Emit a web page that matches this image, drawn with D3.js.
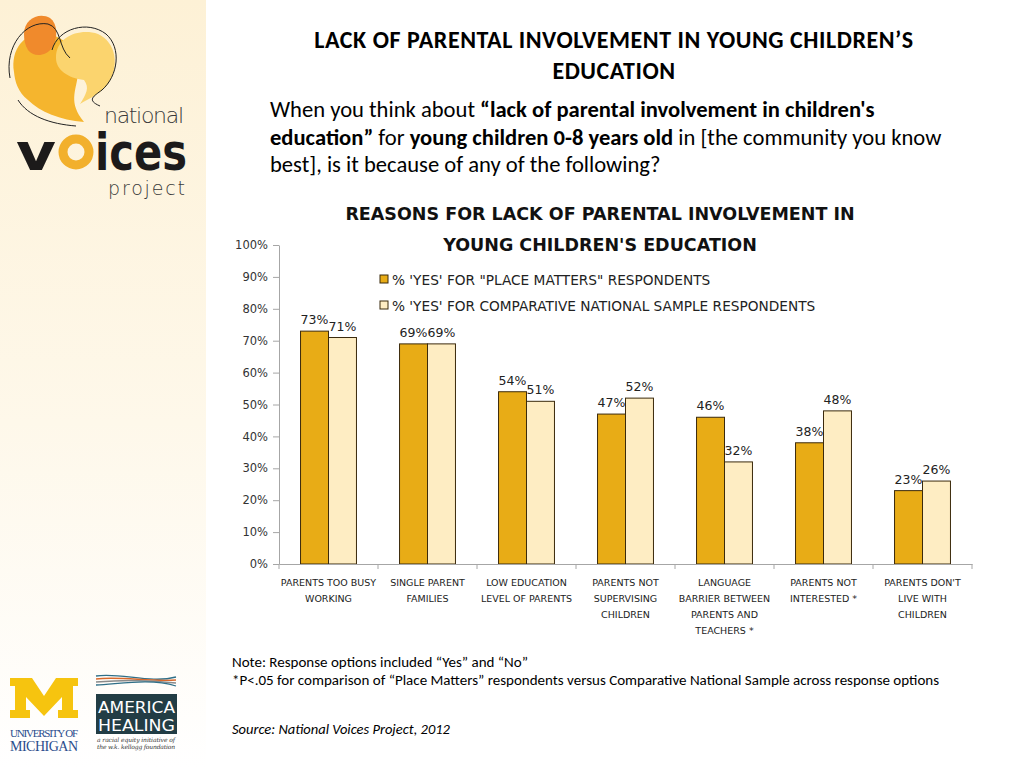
<!DOCTYPE html>
<html>
<head>
<meta charset="utf-8">
<script src="https://cdn.jsdelivr.net/npm/d3@7"></script>
<style>
  body { margin: 0; background: #fff; }
  svg { display: block; }
  .axis path, .axis line { stroke: #a6a6a6; }
  .axis text { font-family: "DejaVu Sans", sans-serif; font-size: 11.5px; fill: #333; }
</style>
</head>
<body>
<script>
(function(){

    //chart data
    var categories = [
        ["PARENTS TOO BUSY", "WORKING"],
        ["SINGLE PARENT", "FAMILIES"],
        ["LOW EDUCATION", "LEVEL OF PARENTS"],
        ["PARENTS NOT", "SUPERVISING", "CHILDREN"],
        ["LANGUAGE", "BARRIER BETWEEN", "PARENTS AND", "TEACHERS *"],
        ["PARENTS NOT", "INTERESTED *"],
        ["PARENTS DON'T", "LIVE WITH", "CHILDREN"]
    ];
    var seriesNames = ["% 'YES'  FOR \"PLACE MATTERS\" RESPONDENTS",
                       "% 'YES' FOR COMPARATIVE NATIONAL SAMPLE RESPONDENTS"];
    var placeMatters = [73, 69, 54, 47, 46, 38, 23];
    var nationalSample = [71, 69, 51, 52, 32, 48, 26];
    var yTicks = [0, 10, 20, 30, 40, 50, 60, 70, 80, 90, 100];
    var colors = ["#E8AC16", "#FEEDC3"];

    var width = 1024, height = 768;
    var calibri = "Carlito, Lato, 'Open Sans', sans-serif";
    var gothic = "'DejaVu Sans', sans-serif";

    var svg = d3.select("body").append("svg")
        .attr("width", width)
        .attr("height", height);

    //left side panel
    var defs = svg.append("defs");
    var grad = defs.append("linearGradient")
        .attr("id", "panel")
        .attr("x1", 0).attr("y1", 0).attr("x2", 0).attr("y2", 1);
    grad.append("stop").attr("offset", "0%").attr("stop-color", "#FDF1D6");
    grad.append("stop").attr("offset", "55%").attr("stop-color", "#FEF8EA");
    grad.append("stop").attr("offset", "100%").attr("stop-color", "#FFFFFF");
    svg.append("rect")
        .attr("x", 0).attr("y", 0)
        .attr("width", 206).attr("height", height)
        .attr("fill", "url(#panel)");

    drawLogos();

    //page title
    var title = svg.append("text")
        .attr("text-anchor", "middle")
        .style("font-family", calibri)
        .style("font-weight", "bold")
        .style("font-size", "24px")
        .style("letter-spacing", "0.55px")
        .attr("fill", "#000");
    title.append("tspan").attr("x", 614).attr("y", 48).text("LACK OF PARENTAL INVOLVEMENT IN YOUNG CHILDREN\u2019S");
    title.append("tspan").attr("x", 614).attr("y", 79).text("EDUCATION");

    //question text
    var question = [
        [["When you think about ", false], ["\u201Clack of parental involvement in children's", true]],
        [["education\u201D", true], [" for ", false], ["young children 0-8 years old", true], [" in [the community you know", false]],
        [["best], is it because of any of the following?", false]]
    ];
    question.forEach(function(line, i){
        var t = svg.append("text")
            .attr("x", 270)
            .attr("y", 117 + i * 27.5)
            .style("font-family", calibri)
            .style("font-size", "22.6px")
            .attr("fill", "#000");
        line.forEach(function(part){
            t.append("tspan")
                .style("font-weight", part[1] ? "bold" : "normal")
                .text(part[0]);
        });
    });

    //chart title
    var chartTitle = svg.append("text")
        .attr("text-anchor", "middle")
        .style("font-family", gothic)
        .style("font-weight", "bold")
        .style("font-size", "17.5px")
        .attr("fill", "#111");
    chartTitle.append("tspan").attr("x", 600).attr("y", 220).text("REASONS FOR LACK OF PARENTAL INVOLVEMENT IN");
    chartTitle.append("tspan").attr("x", 600).attr("y", 251).text("YOUNG CHILDREN'S EDUCATION");

    //scales
    var left = 279, right = 972, top = 245, bottom = 564;
    var x0 = d3.scaleBand()
        .domain(d3.range(categories.length))
        .range([left, right]);
    var x1 = d3.scaleBand()
        .domain([0, 1])
        .range([0, x0.bandwidth()])
        .paddingOuter(0.77);
    var y = d3.scaleLinear()
        .domain([0, 100])
        .range([bottom, top]);

    //y axis
    svg.append("g")
        .attr("class", "axis")
        .attr("transform", "translate(" + left + ",0)")
        .call(d3.axisLeft(y)
            .tickValues(yTicks)
            .tickSizeInner(6)
            .tickSizeOuter(0)
            .tickPadding(5)
            .tickFormat(function(d){ return d + "%"; }));

    //bars
    var series = [placeMatters, nationalSample];
    series.forEach(function(vals, s){
        svg.selectAll(".bar" + s)
            .data(vals)
            .enter()
            .append("rect")
            .attr("class", "bar" + s)
            .attr("x", function(d, i){ return x0(i) + x1(s); })
            .attr("width", x1.bandwidth())
            .attr("y", function(d){ return y(d); })
            .attr("height", function(d){ return y(0) - y(d); })
            .attr("fill", colors[s])
            .attr("stroke", "#3b2a0c")
            .attr("stroke-width", 1);

        svg.selectAll(".val" + s)
            .data(vals)
            .enter()
            .append("text")
            .attr("class", "val" + s)
            .attr("text-anchor", "middle")
            .attr("x", function(d, i){ return x0(i) + x1(s) + x1.bandwidth() / 2; })
            .attr("y", function(d){ return y(d) - 7; })
            .style("font-family", gothic)
            .style("font-size", "12.5px")
            .attr("fill", "#222")
            .text(function(d){ return d + "%"; });
    });

    //x axis
    var xAxis = svg.append("g")
        .attr("class", "axis")
        .attr("transform", "translate(0," + bottom + ")")
        .call(d3.axisBottom(x0).tickSize(0).tickFormat(""));
    xAxis.selectAll(".bound")
        .data(d3.range(categories.length + 1))
        .enter()
        .append("line")
        .attr("class", "bound")
        .attr("x1", function(i){ return left + i * x0.step(); })
        .attr("x2", function(i){ return left + i * x0.step(); })
        .attr("y1", 0)
        .attr("y2", 5);

    //category labels
    categories.forEach(function(lines, i){
        var t = svg.append("text")
            .attr("text-anchor", "middle")
            .style("font-family", gothic)
            .style("font-size", "9.5px")
            .attr("fill", "#222");
        lines.forEach(function(l, j){
            t.append("tspan")
                .attr("x", x0(i) + x0.bandwidth() / 2)
                .attr("y", 586 + j * 16)
                .text(l);
        });
    });

    //legend
    seriesNames.forEach(function(name, s){
        var ly = 280 + s * 26;
        svg.append("rect")
            .attr("x", 380).attr("y", ly - 5)
            .attr("width", 8).attr("height", 8)
            .attr("fill", colors[s])
            .attr("stroke", "#3b2a0c");
        svg.append("text")
            .attr("x", 392).attr("y", ly + 5)
            .style("font-family", gothic)
            .style("font-size", "13.7px")
            .attr("fill", "#222")
            .text(name);
    });

    //notes
    var notes = ["Note: Response options included \u201CYes\u201D and \u201CNo\u201D",
                 "*P<.05 for comparison of \u201CPlace Matters\u201D respondents versus Comparative National Sample across response options"];
    notes.forEach(function(n, i){
        svg.append("text")
            .attr("x", 232).attr("y", 667 + i * 18)
            .style("font-family", calibri)
            .style("font-size", "15px")
            .attr("fill", "#000")
            .text(n);
    });
    svg.append("text")
        .attr("x", 232).attr("y", 734)
        .style("font-family", calibri)
        .style("font-size", "14.5px")
        .style("font-style", "italic")
        .attr("fill", "#000")
        .text("Source: National Voices Project, 2012");

    function drawLogos(){
        var g = svg.append("g");
        //speech bubbles
        g.append("path")
            .attr("d", "M14,72 C10,46 28,30 48,34 C68,38 80,54 78,74 C76,92 68,102 84,122 C60,120 40,112 28,100 C18,92 15,82 14,72 Z")
            .attr("fill", "#F5B52E");
        g.append("path")
            .attr("d", "M56,58 C56,36 80,28 98,34 C116,42 120,66 108,84 C100,94 90,98 80,104 C86,94 90,88 84,80 C68,78 56,70 56,58 Z")
            .attr("fill", "#FBD46E");
        g.append("path")
            .attr("d", "M24,34 C24,18 40,12 50,18 C58,24 58,38 52,48 C46,56 34,58 28,50 C25,45 24,40 24,34 Z")
            .attr("fill", "#F08A2C");
        g.append("path")
            .attr("d", "M10,78 C4,46 26,20 48,24 C62,28 58,48 70,58 M52,50 C58,28 88,20 106,34 C122,48 118,76 102,90 C94,96 86,100 100,106 M18,100 C28,116 50,124 76,126")
            .attr("fill", "none")
            .attr("stroke", "#222")
            .attr("stroke-width", 1);
        g.append("text")
            .attr("x", 184).attr("y", 123)
            .attr("text-anchor", "end")
            .style("font-family", "'DejaVu Sans', sans-serif")
            .style("font-size", "22px")
            .style("font-weight", "200")
            .attr("fill", "#3a3a3a")
            .attr("textLength", 80)
            .text("national");
        //"v" and "ices" as text, the yellow "o" as a ring
        g.append("text")
            .attr("x", 16).attr("y", 170)
            .style("font-family", "'DejaVu Sans', sans-serif")
            .style("font-size", "52px")
            .style("font-weight", "bold")
            .attr("fill", "#1c1a1a")
            .attr("textLength", 40)
            .attr("lengthAdjust", "spacingAndGlyphs")
            .text("v");
        g.append("circle")
            .attr("cx", 76).attr("cy", 152)
            .attr("r", 13)
            .attr("fill", "none")
            .attr("stroke", "#F2B02C")
            .attr("stroke-width", 9);
        g.append("text")
            .attr("x", 95).attr("y", 170)
            .style("font-family", "'DejaVu Sans', sans-serif")
            .style("font-size", "52px")
            .style("font-weight", "bold")
            .attr("fill", "#1c1a1a")
            .attr("textLength", 92)
            .attr("lengthAdjust", "spacingAndGlyphs")
            .text("ices");
        g.append("text")
            .attr("x", 185).attr("y", 195)
            .attr("text-anchor", "end")
            .style("font-family", "'DejaVu Sans', sans-serif")
            .style("font-size", "19px")
            .style("font-weight", "200")
            .attr("fill", "#3a3a3a")
            .attr("textLength", 77)
            .text("project");

        //block M
        g.append("path")
            .attr("d", "M10,678 L32,678 L44,696 L56,678 L78,678 L78,686 L73,686 L73,710 L78,710 L78,718 L58,718 L58,710 L62,710 L62,697 L44,716 L26,697 L26,710 L30,710 L30,718 L10,718 L10,710 L15,710 L15,686 L10,686 Z")
            .attr("fill", "#F6C40F");
        g.append("text")
            .attr("x", 10).attr("y", 737)
            .style("font-family", "'Liberation Serif', serif")
            .style("font-size", "11px")
            .attr("fill", "#2a4c8c")
            .attr("textLength", 68)
            .text("UNIVERSITY OF");
        g.append("text")
            .attr("x", 10).attr("y", 751)
            .style("font-family", "'Liberation Serif', serif")
            .style("font-size", "14px")
            .attr("fill", "#2a4c8c")
            .attr("textLength", 68)
            .text("MICHIGAN");

        //america healing
        var waves = ["#2f6f88", "#d9692c", "#8a8a8a", "#2f6f88"];
        waves.forEach(function(c, i){
            g.append("path")
                .attr("d", "M96," + (676 + i * 3) + " C120," + (672 + i * 4) + " 150," + (684 - i * 2) + " 176," + (677 + i * 3))
                .attr("fill", "none")
                .attr("stroke", c)
                .attr("stroke-width", 1.3);
        });
        g.append("rect")
            .attr("x", 96).attr("y", 694)
            .attr("width", 81).attr("height", 40)
            .attr("fill", "#223d45");
        g.append("text")
            .attr("x", 98).attr("y", 713)
            .style("font-family", "'DejaVu Sans Condensed', sans-serif")
            .style("font-size", "15px")
            .attr("fill", "#fff")
            .attr("textLength", 77)
            .attr("lengthAdjust", "spacingAndGlyphs")
            .text("AMERICA");
        g.append("text")
            .attr("x", 98).attr("y", 731)
            .style("font-family", "'DejaVu Sans Condensed', sans-serif")
            .style("font-size", "16px")
            .attr("fill", "#fff")
            .attr("textLength", 77)
            .attr("lengthAdjust", "spacingAndGlyphs")
            .text("HEALING");
        g.append("text")
            .attr("x", 97).attr("y", 742)
            .style("font-family", "'DejaVu Serif', serif")
            .style("font-size", "6px")
            .style("font-style", "italic")
            .attr("fill", "#333")
            .attr("textLength", 78)
            .text("a racial equity initiative of");
        g.append("text")
            .attr("x", 97).attr("y", 749)
            .style("font-family", "'DejaVu Serif', serif")
            .style("font-size", "6px")
            .style("font-style", "italic")
            .attr("fill", "#333")
            .attr("textLength", 78)
            .text("the w.k. kellogg foundation");
    }

})();
</script>
</body>
</html>
